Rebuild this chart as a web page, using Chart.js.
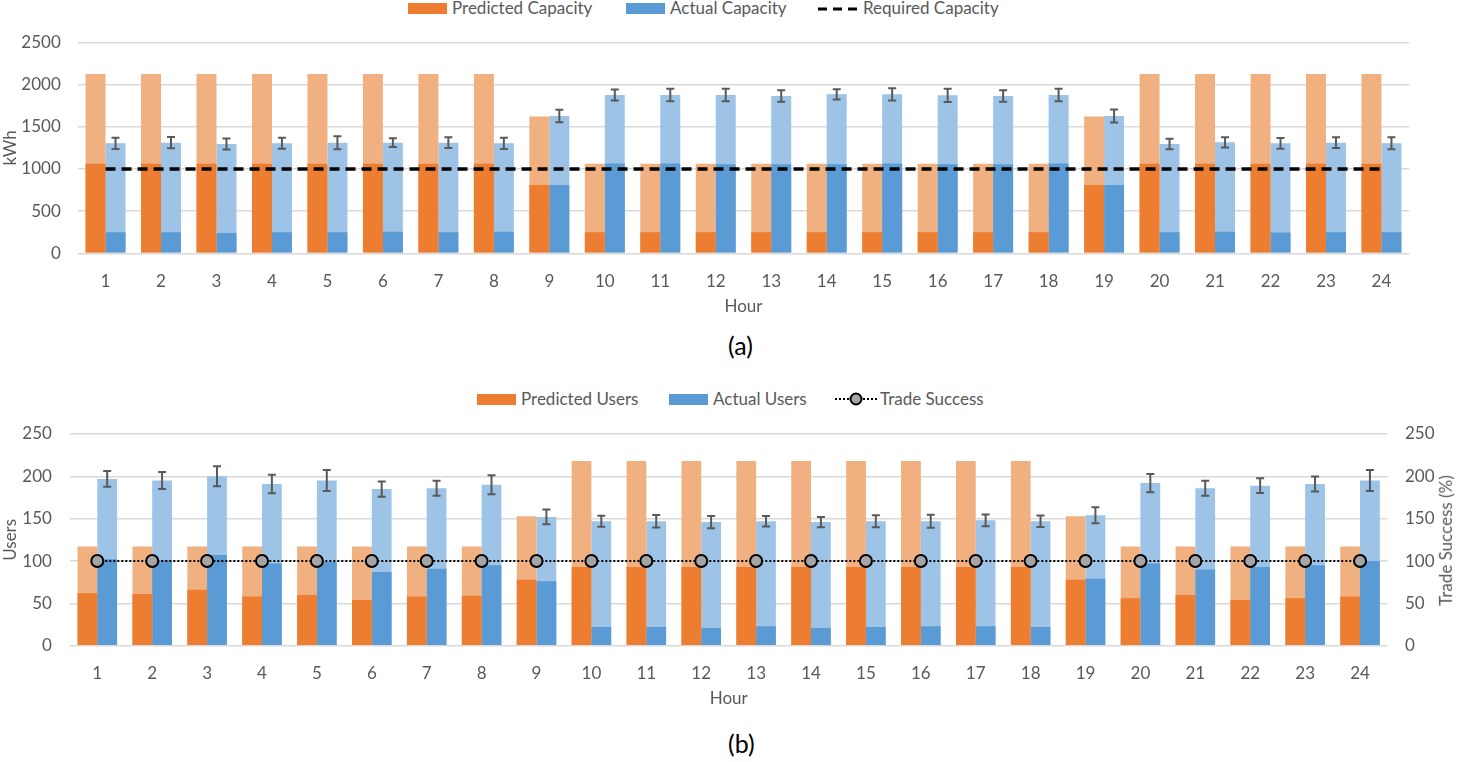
<!DOCTYPE html>
<html>
<head>
<meta charset="utf-8">
<script src="https://cdn.jsdelivr.net/npm/chart.js@4.4.1/dist/chart.umd.min.js"></script>
<style>
  body { margin: 0; background: #fff; font-family: Lato, sans-serif; }
  #page { position: relative; width: 1459px; height: 762px; overflow: hidden; }
  .wrap { position: absolute; left: 0; width: 1459px; }
  .lg { position: absolute; color: #595959; font-size: 17px; line-height: 20px; white-space: nowrap; }
  .box { position: absolute; width: 39px; height: 11px; }
  .cap { position: absolute; color: #000; font-size: 25px; }
  .rtitle { position: absolute; color: #595959; font-size: 17px; white-space: nowrap;
            transform: rotate(-90deg); transform-origin: center; }
</style>
</head>
<body>
<div id="page">
  <!-- legend (a) -->
  <div class="box" style="left:408px; top:3px; background:#ED7D31"></div>
  <div class="lg" style="left:452px; top:-2px">Predicted Capacity</div>
  <div class="box" style="left:626px; top:3px; background:#5B9BD5"></div>
  <div class="lg" style="left:670px; top:-2px">Actual Capacity</div>
  <svg style="position:absolute; left:818px; top:6px" width="44" height="6">
    <line x1="0" y1="3" x2="44" y2="3" stroke="#000" stroke-width="3" stroke-dasharray="9,6"/>
  </svg>
  <div class="lg" style="left:863px; top:-2px">Required Capacity</div>

  <div class="wrap" style="top:0; height:320px"><canvas id="chartA" width="1459" height="320"></canvas></div>
  <div class="cap" style="left:728px; top:330px">(a)</div>

  <!-- legend (b) -->
  <div class="box" style="left:477px; top:394px; background:#ED7D31"></div>
  <div class="lg" style="left:521px; top:389px">Predicted Users</div>
  <div class="box" style="left:669px; top:394px; background:#5B9BD5"></div>
  <div class="lg" style="left:713px; top:389px">Actual Users</div>
  <svg style="position:absolute; left:835px; top:392px" width="42" height="14">
    <line x1="0" y1="7" x2="42" y2="7" stroke="#000" stroke-width="2" stroke-dasharray="2,2"/>
    <circle cx="21" cy="7" r="5.5" fill="#A5A5A5" stroke="#000" stroke-width="2"/>
  </svg>
  <div class="lg" style="left:880px; top:389px">Trade Success</div>

  <div class="wrap" style="top:380px; height:330px"><canvas id="chartB" width="1459" height="330"></canvas></div>
  <div class="rtitle" style="left:1380px; top:530px">Trade Success (%)</div>
  <div class="cap" style="left:728px; top:728px">(b)</div>
</div>

<script>
// hours on the x axis
const hours = ['1','2','3','4','5','6','7','8','9','10','11','12',
               '13','14','15','16','17','18','19','20','21','22','23','24'];

// panel (a) - capacity (kWh)
const predCapTotal = [2125,2125,2125,2125,2125,2125,2125,2125,1620,1060,1060,1060,
                      1060,1060,1060,1060,1060,1060,1620,2125,2125,2125,2125,2125];
const predCapLow   = [1060,1060,1060,1060,1060,1060,1060,1060,810,250,250,250,
                      250,250,250,250,250,250,810,1060,1060,1060,1060,1060];
const actCapTotal  = [1303,1311,1295,1303,1311,1311,1311,1303,1627,1876,1876,1876,
                      1864,1884,1884,1872,1864,1876,1627,1295,1315,1303,1311,1303];
const actCapErr    = [67,67,65,65,77,53,63,67,75,65,75,75,67,61,73,79,69,75,77,63,61,63,63,71];
const actCapLow    = [250,250,240,250,250,255,250,255,810,1065,1065,1055,
                      1055,1055,1065,1055,1055,1065,810,250,255,245,250,250];
const reqCap       = [1000,1000,1000,1000,1000,1000,1000,1000,1000,1000,1000,1000,
                      1000,1000,1000,1000,1000,1000,1000,1000,1000,1000,1000,1000];

// panel (b) - users
const predUsersTotal = [117,117,117,117,117,117,117,117,153,218,218,218,
                        218,218,218,218,218,218,153,117,117,117,117,117];
const predUsersLow   = [62,61,66,58,60,54,58,59,78,93,93,93,93,93,93,93,93,93,78,56,60,54,56,58];
const actUsersTotal  = [197,195,200,191,195,185,186,190,152,147,147,146,
                        147,146,147,147,148,147,154,192,186,189,191,195];
const actUsersErr    = [9.3,10,11.8,11,12.4,9,8.9,11.2,8.7,6.5,7.3,7.3,
                        6.1,6.1,7.1,7.7,6.9,6.7,9.4,10.8,8.9,8.7,8.9,12.4];
const actUsersLow    = [102,101,107,97,99,87,91,95,76,22,22,21,23,21,22,23,23,22,79,97,90,93,95,100];
const tradeSuccess   = [100,100,100,100,100,100,100,100,100,100,100,100,
                        100,100,100,100,100,100,100,100,100,100,100,100];

const ORANGE = '#ED7D31', ORANGE_LT = '#F1B080';
const BLUE = '#5B9BD5', BLUE_LT = '#9DC3E6';
const GRID = '#D9D9D9', TEXT = '#595959';

Chart.defaults.font.family = 'Lato';
Chart.defaults.font.size = 17;
Chart.defaults.color = TEXT;

// draws the whiskers for datasets that carry an "errors" array
const errorBars = {
  id: 'errorBars',
  afterDatasetsDraw(chart) {
    const ctx = chart.ctx;
    chart.data.datasets.forEach((ds, i) => {
      if (!ds.errors) return;
      const meta = chart.getDatasetMeta(i);
      const y = chart.scales[meta.yAxisID];
      ctx.save();
      ctx.strokeStyle = TEXT;
      ctx.lineWidth = 2;
      meta.data.forEach((bar, j) => {
        const top = y.getPixelForValue(ds.data[j] + ds.errors[j]);
        const bot = y.getPixelForValue(ds.data[j] - ds.errors[j]);
        ctx.beginPath();
        ctx.moveTo(bar.x, top); ctx.lineTo(bar.x, bot);
        ctx.moveTo(bar.x - 4, top); ctx.lineTo(bar.x + 4, top);
        ctx.moveTo(bar.x - 4, bot); ctx.lineTo(bar.x + 4, bot);
        ctx.stroke();
      });
      ctx.restore();
    });
  }
};

function barSet(label, data, color, stack, order, extra) {
  return Object.assign({
    type: 'bar', label, data, backgroundColor: color, stack, order,
    categoryPercentage: 0.72, barPercentage: 1.0, borderWidth: 0
  }, extra || {});
}

const plainTick = v => String(v);

new Chart(document.getElementById('chartA'), {
  type: 'bar',
  data: {
    labels: hours,
    datasets: [
      { type: 'line', label: 'Required Capacity', data: reqCap, borderColor: '#000',
        borderWidth: 3.5, borderDash: [10, 6], pointRadius: 0, fill: false, order: 0 },
      barSet('Predicted Capacity', predCapLow, ORANGE, 'pred', 1),
      barSet('Actual Capacity', actCapLow, BLUE, 'act', 1),
      barSet('Predicted Capacity total', predCapTotal, ORANGE_LT, 'pred', 2),
      barSet('Actual Capacity total', actCapTotal, BLUE_LT, 'act', 2, { errors: actCapErr })
    ]
  },
  options: {
    responsive: false,
    animation: false,
    layout: { padding: { top: 42.3, right: 49.8, left: 0, bottom: 0 } },
    plugins: { legend: { display: false }, tooltip: { enabled: false } },
    scales: {
      x: {
        stacked: true,
        grid: { display: false },
        border: { display: false },
        ticks: { padding: 10 },
        title: { display: true, text: 'Hour', padding: { top: 0, bottom: 3 } },
        afterFit: s => { s.height = 66.7; }
      },
      y: {
        stacked: false,
        min: 0, max: 2500,
        ticks: { stepSize: 500, padding: 17, callback: plainTick },
        grid: { color: GRID, lineWidth: 1.5, drawTicks: false },
        border: { display: false },
        title: { display: true, text: 'kWh', padding: 0 },
        afterFit: s => { s.width = 77.8; }
      }
    }
  },
  plugins: [errorBars]
});

new Chart(document.getElementById('chartB'), {
  type: 'bar',
  data: {
    labels: hours,
    datasets: [
      { type: 'line', label: 'Trade Success', data: tradeSuccess, yAxisID: 'y2',
        borderColor: '#000', borderWidth: 2, borderDash: [2, 2], fill: false,
        pointRadius: 6, pointBackgroundColor: '#A5A5A5', pointBorderColor: '#000',
        pointBorderWidth: 2, order: 0 },
      barSet('Predicted Users', predUsersLow, ORANGE, 'pred', 1),
      barSet('Actual Users', actUsersLow, BLUE, 'act', 1),
      barSet('Predicted Users total', predUsersTotal, ORANGE_LT, 'pred', 2),
      barSet('Actual Users total', actUsersTotal, BLUE_LT, 'act', 2, { errors: actUsersErr })
    ]
  },
  options: {
    responsive: false,
    animation: false,
    layout: { padding: { top: 54, right: 0, left: 0, bottom: 0 } },
    plugins: { legend: { display: false }, tooltip: { enabled: false } },
    scales: {
      x: {
        stacked: true,
        grid: { display: false },
        border: { display: false },
        ticks: { padding: 10 },
        title: { display: true, text: 'Hour', padding: { top: 0, bottom: 1 } },
        afterFit: s => { s.height = 64.3; }
      },
      y: {
        stacked: false,
        min: 0, max: 250,
        ticks: { stepSize: 50, padding: 18, callback: plainTick },
        grid: { color: GRID, lineWidth: 1.5, drawTicks: false },
        border: { display: false },
        title: { display: true, text: 'Users', padding: 0 },
        afterFit: s => { s.width = 69.85; }
      },
      y2: {
        position: 'right',
        stacked: false,
        min: 0, max: 250,
        ticks: { stepSize: 50, padding: 17.5, callback: plainTick },
        grid: { display: false, drawTicks: false },
        border: { display: false },
        afterFit: s => { s.width = 71.5; }
      }
    }
  },
  plugins: [errorBars]
});
</script>
</body>
</html>
